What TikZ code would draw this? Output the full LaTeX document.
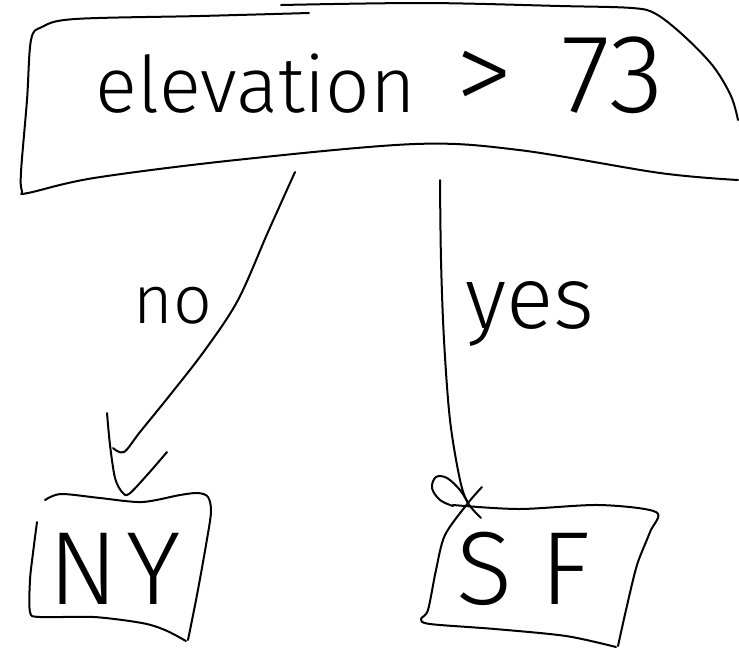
\documentclass[tikz,border=0pt]{standalone}
\usepackage{fontspec}
\setmainfont{Fira Sans Light}
\begin{document}
\begin{tikzpicture}[x=0.5pt,y=-0.5pt,
  ink/.style={line width=1pt, line cap=round, line join=round, black},
  label/.style={inner sep=0pt, anchor=base west, text=black}]
\useasboundingbox (0,0) rectangle (739,650);
\fill[white] (0,0) rectangle (739,650);

% ---- decision box (open, freehand outline) ----
\draw[ink] plot[smooth, tension=0.55] coordinates {
  (309,13) (200,16) (75,19) (42,27) (31,40) (27,100) (21,172) (22,191) (28,193)
  (94,178) (236,160) (415,144) (519,150) (660,173) (738,180)};
\draw[ink] plot[smooth, tension=0.55] coordinates {
  (281,5) (425,3) (560,6) (632,8) (656,14) (684,36) (713,66) (731,96) (738,120)};
\node[label, font=\fontsize{39}{44}\selectfont] (cond) at (95,112)
  {elevation\hspace{20pt}{\fontsize{58}{64}\selectfont >}\hspace{24pt}{\fontsize{56}{60}\selectfont 73}};

% ---- leaf: NY ----
\draw[ink] plot[smooth, tension=0.5] coordinates {
  (45,500) (61,494) (100,498) (142,502) (180,495) (198,493) (208,497) (211,512)
  (206,545) (197,595) (188,640)};
\draw[ink] plot[smooth, tension=0.5] coordinates {
  (186,641) (165,630) (142,623) (94,617) (40,617) (30,612) (30,580) (33,553) (37,522)};
\node[label, font=\fontsize{52}{60}\selectfont] (ny) at (48,604) {N\hspace{4pt}Y};

% ---- leaf: SF ----
\draw[ink] plot[smooth, tension=0.5] coordinates {
  (453,505) (519,509) (599,505) (656,512) (650,532) (637,565) (626,610) (618,646)};
\draw[ink] plot[smooth, tension=0.5] coordinates {
  (616,647) (566,636) (495,629) (430,624) (421,619) (428,610) (436,570) (445,535)
  (468,503) (482,487)};
\node[label, font=\fontsize{52}{60}\selectfont] (sf) at (456,604) {S\hspace{14pt}F};

% ---- branch "no" ----
\coordinate (no-from) at (295,172);
\coordinate (no-to) at (113,448);
\draw[ink] plot[smooth, tension=0.55] coordinates {
  (no-from) (268,232) (238,300) (205,350) (170,395) (140,432) (124,452) (no-to)};
\draw[ink] plot[smooth, tension=0.5] coordinates {
  (107,413) (110,445) (115,478) (122,492) (129,494) (148,474) (167,452)};
\node[label, font=\fontsize{34}{40}\selectfont] (no) at (133,323) {no};

% ---- branch "yes" ----
\coordinate (yes-from) at (440,180);
\coordinate (yes-to) at (481,518);
\draw[ink] plot[smooth, tension=0.55] coordinates {
  (yes-from) (441,260) (444,340) (450,420) (460,480) (468,503) (yes-to)};
\draw[ink] plot[smooth, tension=0.6] coordinates {
  (453,506) (440,500) (432,488) (436,477) (447,478) (460,490) (468,503)};
\node[label, font=\fontsize{44}{50}\selectfont] (yes) at (465,328) {yes};
\end{tikzpicture}
\end{document}
